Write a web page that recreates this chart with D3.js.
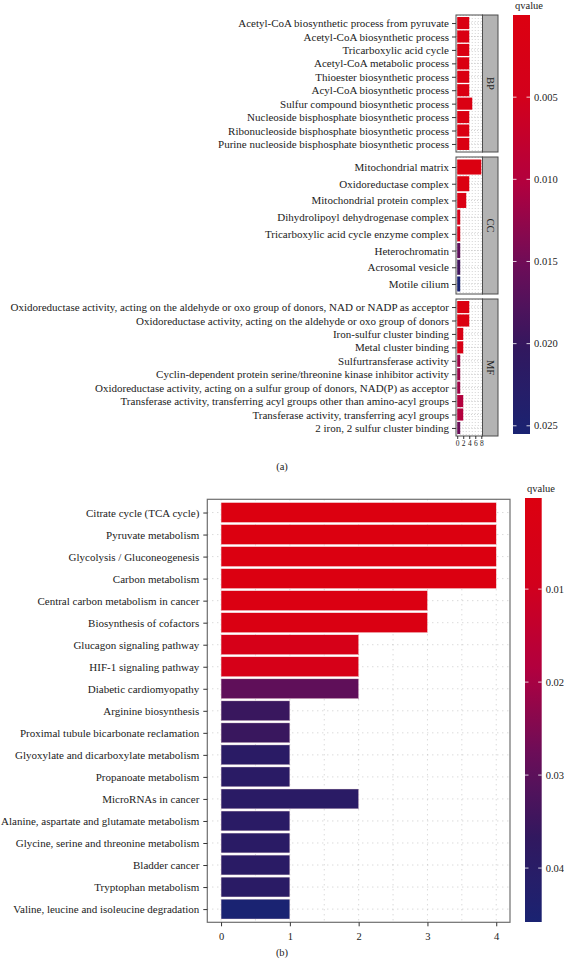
<!DOCTYPE html>
<html><head><meta charset="utf-8">
<script src="https://cdn.jsdelivr.net/npm/d3@7"></script>
<style>body{margin:0;background:#fff}svg{display:block}text{font-family:"Liberation Serif","Times New Roman",serif;fill:#222}</style>
</head><body>
<script>
// ---------- DATA (panel a) ----------
const bpTerms = ["Acetyl-CoA biosynthetic process from pyruvate","Acetyl-CoA biosynthetic process","Tricarboxylic acid cycle","Acetyl-CoA metabolic process","Thioester biosynthetic process","Acyl-CoA biosynthetic process","Sulfur compound biosynthetic process","Nucleoside bisphosphate biosynthetic process","Ribonucleoside bisphosphate biosynthetic process","Purine nucleoside bisphosphate biosynthetic process"];
const bpCounts = [4,4,4,4,4,4,5,4,4,4];
const bpQ = [0.0008,0.0008,0.0008,0.0008,0.0008,0.0008,0.0012,0.0009,0.0009,0.0009];
const ccTerms = ["Mitochondrial matrix","Oxidoreductase complex","Mitochondrial protein complex","Dihydrolipoyl dehydrogenase complex","Tricarboxylic acid cycle enzyme complex","Heterochromatin","Acrosomal vesicle","Motile cilium"];
const ccCounts = [8,4,3,1,1,1,1,1];
const ccQ = [0.0003,0.0006,0.0012,0.003,0.003,0.0165,0.019,0.0255];
const mfTerms = ["Oxidoreductase activity, acting on the aldehyde or oxo group of donors, NAD or NADP as acceptor","Oxidoreductase activity, acting on the aldehyde or oxo group of donors","Iron-sulfur cluster binding","Metal cluster binding","Sulfurtransferase activity","Cyclin-dependent protein serine/threonine kinase inhibitor activity","Oxidoreductase activity, acting on a sulfur group of donors, NAD(P) as acceptor","Transferase activity, transferring acyl groups other than amino-acyl groups","Transferase activity, transferring acyl groups","2 iron, 2 sulfur cluster binding"];
const mfCounts = [4,4,2,2,1,1,1,2,2,1];
const mfQ = [0.0006,0.0006,0.002,0.002,0.0115,0.0118,0.0115,0.0100,0.0100,0.0155];
const facetNames = ["BP","CC","MF"];
const topXTicks = [0,2,4,6,8];
const topLegendTicks = [0.005,0.010,0.015,0.020,0.025];
const topQRange = [0,0.0255];
// ---------- DATA (panel b) ----------
const keggTerms = ["Citrate cycle (TCA cycle)","Pyruvate metabolism","Glycolysis / Gluconeogenesis","Carbon metabolism","Central carbon metabolism in cancer","Biosynthesis of cofactors","Glucagon signaling pathway","HIF-1 signaling pathway","Diabetic cardiomyopathy","Arginine biosynthesis","Proximal tubule bicarbonate reclamation","Glyoxylate and dicarboxylate metabolism","Propanoate metabolism","MicroRNAs in cancer","Alanine, aspartate and glutamate metabolism","Glycine, serine and threonine metabolism","Bladder cancer","Tryptophan metabolism","Valine, leucine and isoleucine degradation"];
const keggCounts = [4,4,4,4,3,3,2,2,2,1,1,1,1,2,1,1,1,1,1];
const keggQ = [0.0003,0.0004,0.0007,0.0007,0.0015,0.002,0.006,0.006,0.0295,0.0355,0.0355,0.0395,0.0395,0.0395,0.0395,0.0395,0.0395,0.0395,0.0458];
const bXTicks = [0,1,2,3,4];
const bLegendTicks = [0.01,0.02,0.03,0.04];
const bQRange = [0.0002,0.0458];
// colour ramp stops (low qvalue -> high qvalue)
const rampColors = ["#dc0010","#d2001c","#b2003e","#6c0d58","#31185f","#1a2372"];

const svg = d3.select("body").append("svg").attr("width",564).attr("height",962);
const defs = svg.append("defs");
const interp = d3.piecewise(d3.interpolateRgb, rampColors);
const gridC = "#b5b5b5";
const labelFont = "11px";

// ================= PANEL A =================
const xA = d3.scaleLinear().domain([-0.4,8.4]).range([456,482.5]);
const colA = d3.scaleSequential(interp).domain(topQRange);
const facets = [
  {name:facetNames[0],terms:bpTerms,counts:bpCounts,q:bpQ},
  {name:facetNames[1],terms:ccTerms,counts:ccCounts,q:ccQ},
  {name:facetNames[2],terms:mfTerms,counts:mfCounts,q:mfQ}
];
const pTop=15, pH=137, pGap=5, stripW=15.5;
facets.forEach((f,i)=>{
  const y0 = pTop + i*(pH+pGap), y1 = y0+pH;
  const y = d3.scalePoint().domain(f.terms).range([y0,y1]).padding(0.6);
  const g = svg.append("g");
  d3.range(0,8.01,1).forEach(v=>{
    g.append("line").attr("x1",xA(v)).attr("x2",xA(v)).attr("y1",y0).attr("y2",y1)
     .attr("stroke",gridC).attr("stroke-width",0.6).attr("stroke-dasharray","1,2");
  });
  f.terms.forEach(t=>{
    g.append("line").attr("x1",xA.range()[0]).attr("x2",xA.range()[1]).attr("y1",y(t)).attr("y2",y(t))
     .attr("stroke",gridC).attr("stroke-width",0.6).attr("stroke-dasharray","1,2");
  });
  const bh = y.step()*0.9;
  g.selectAll("rect.bar").data(f.terms).join("rect").attr("class","bar")
    .attr("x",xA(0)).attr("y",t=>y(t)-bh/2)
    .attr("width",(t,k)=>xA(f.counts[k])-xA(0)).attr("height",bh)
    .attr("fill",(t,k)=>colA(f.q[k]));
  g.append("rect").attr("x",xA.range()[0]).attr("y",y0).attr("width",xA.range()[1]-xA.range()[0]).attr("height",pH)
    .attr("fill","none").attr("stroke","#4d4d4d").attr("stroke-width",1);
  const ax = d3.axisLeft(y).tickSize(4).tickPadding(3);
  const ag = g.append("g").attr("transform",`translate(${xA.range()[0]},0)`).call(ax);
  ag.select(".domain").remove();
  ag.selectAll(".tick line").attr("stroke","#333");
  ag.selectAll(".tick text").style("font-family","Liberation Serif").style("font-size",labelFont).attr("fill","#1a1a1a");
  g.append("rect").attr("x",xA.range()[1]).attr("y",y0).attr("width",stripW).attr("height",pH)
    .attr("fill","#b3b3b3").attr("stroke","#4d4d4d").attr("stroke-width",1);
  g.append("text").attr("transform",`translate(${xA.range()[1]+stripW/2},${y0+pH/2}) rotate(90)`)
    .attr("text-anchor","middle").attr("dy","0.35em").style("font-size","10.5px").attr("fill","#1a1a1a").text(f.name);
});
const axA = d3.axisBottom(xA).tickValues(topXTicks).tickSize(3).tickPadding(2);
const axAg = svg.append("g").attr("transform",`translate(0,${pTop+3*pH+2*pGap})`).call(axA);
axAg.select(".domain").remove();
axAg.selectAll(".tick line").attr("stroke","#333");
axAg.selectAll(".tick text").style("font-family","Liberation Serif").style("font-size","7.5px").attr("fill","#222");
function legend(id, range, ticks, fmt, lx, lw, ly0, ly1, col, titleY){
  const ly = d3.scaleLinear().domain(range).range([ly0,ly1]);
  const grad = defs.append("linearGradient").attr("id",id).attr("x1",0).attr("x2",0).attr("y1",0).attr("y2",1);
  d3.range(0,1.0001,0.05).forEach(t=>grad.append("stop").attr("offset",t).attr("stop-color",col(range[0]+t*(range[1]-range[0]))));
  svg.append("rect").attr("x",lx).attr("y",ly0).attr("width",lw).attr("height",ly1-ly0).attr("fill",`url(#${id})`);
  ticks.forEach(v=>{
    svg.append("line").attr("x1",lx).attr("x2",lx+3.5).attr("y1",ly(v)).attr("y2",ly(v)).attr("stroke","#fff").attr("stroke-width",0.8);
    svg.append("line").attr("x1",lx+lw-3.5).attr("x2",lx+lw).attr("y1",ly(v)).attr("y2",ly(v)).attr("stroke","#fff").attr("stroke-width",0.8);
    svg.append("text").attr("x",lx+lw+4).attr("y",ly(v)).attr("dy","0.35em").style("font-size","10.5px").text(fmt(v));
  });
  svg.append("text").attr("x",lx+2).attr("y",titleY).style("font-size","10.5px").text("qvalue");
}
legend("gA", topQRange, topLegendTicks, d3.format(".3f"), 513, 17, 15, 434, colA, 9);
svg.append("text").attr("x",282).attr("y",470).attr("text-anchor","middle").style("font-size","10.5px").text("(a)");

// ================= PANEL B =================
const xB = d3.scaleLinear().domain([-0.2,4.2]).range([207.3,510]);
const yB = d3.scalePoint().domain(keggTerms).range([499.3,922.3]).padding(0.6);
const colB = d3.scaleSequential(interp).domain(bQRange);
const gb = svg.append("g");
d3.range(0,4.01,0.5).forEach(v=>{
  gb.append("line").attr("x1",xB(v)).attr("x2",xB(v)).attr("y1",499.3).attr("y2",922.3)
    .attr("stroke",gridC).attr("stroke-width",0.7).attr("stroke-dasharray","1,4");
});
keggTerms.forEach(t=>{
  gb.append("line").attr("x1",207.3).attr("x2",510).attr("y1",yB(t)).attr("y2",yB(t))
    .attr("stroke",gridC).attr("stroke-width",0.7).attr("stroke-dasharray","1,4");
});
const bhB = yB.step()*0.9;
gb.selectAll("rect.bar").data(keggTerms).join("rect").attr("class","bar")
  .attr("x",xB(0)).attr("y",t=>yB(t)-bhB/2)
  .attr("width",(t,k)=>xB(keggCounts[k])-xB(0)).attr("height",bhB)
  .attr("fill",(t,k)=>colB(keggQ[k])).attr("stroke","#f4dede").attr("stroke-width",0.4);
gb.append("rect").attr("x",207.3).attr("y",499.3).attr("width",510-207.3).attr("height",423)
  .attr("fill","none").attr("stroke","#6e6e6e").attr("stroke-width",1.2);
const ayB = d3.axisLeft(yB).tickSize(4).tickPadding(4);
const ayBg = gb.append("g").attr("transform","translate(207.3,0)").call(ayB);
ayBg.select(".domain").remove();
ayBg.selectAll(".tick line").attr("stroke","#333");
ayBg.selectAll(".tick text").style("font-family","Liberation Serif").style("font-size","11px").attr("fill","#1a1a1a");
const axB = d3.axisBottom(xB).tickValues(bXTicks).tickFormat(d3.format("d")).tickSize(4).tickPadding(6);
const axBg = gb.append("g").attr("transform","translate(0,922.3)").call(axB);
axBg.select(".domain").remove();
axBg.selectAll(".tick line").attr("stroke","#333");
axBg.selectAll(".tick text").style("font-family","Liberation Serif").style("font-size","10.5px").attr("fill","#222");
legend("gB", bQRange, bLegendTicks, d3.format(".2f"), 525, 16.7, 498, 922, colB, 492);
svg.append("text").attr("x",282).attr("y",956).attr("text-anchor","middle").style("font-size","10.5px").text("(b)");
</script>
</body></html>
